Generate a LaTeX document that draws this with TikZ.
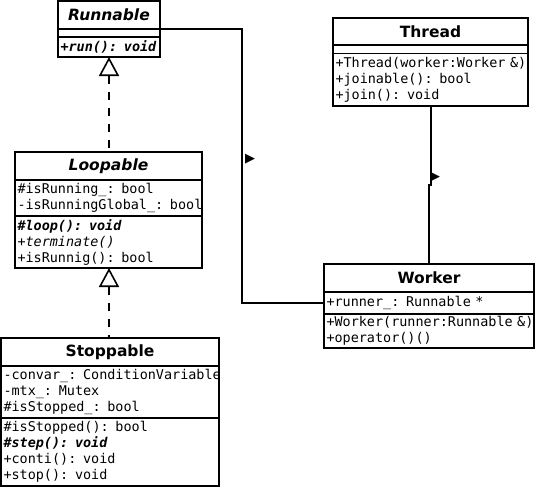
\documentclass[tikz,border=0pt]{standalone}
\usepackage{fontspec}
\setmainfont{DejaVu Sans}
\setsansfont{DejaVu Sans}
\setmonofont{DejaVu Sans Mono}
\usetikzlibrary{arrows.meta,calc}
\newcommand{\umlline}[1]{\mbox{#1}}
\tikzset{
  uml/.style={draw, line width=1.6pt, anchor=north west, inner ysep=0pt, outer sep=0pt},
  ttl/.style={uml, font=\sffamily\bfseries\fontsize{15.5}{18}\selectfont, inner xsep=0pt},
  comp/.style={uml, font=\ttfamily\fontsize{13.45}{16}\selectfont, inner xsep=2.5pt, align=left},
  conn/.style={line width=1.8pt},
  realize/.style={conn, dash pattern=on 8pt off 8pt, {Triangle[open, length=19pt, width=20pt, line width=1.6pt]}-},
  dirmark/.style={font=\fontsize{13}{13}\selectfont, inner sep=0pt},
}
\begin{document}
\begin{tikzpicture}[x=1pt, y=-1pt]
\useasboundingbox (0,0) rectangle (535,487);

% Runnable
\node[ttl, minimum width=102pt, minimum height=28pt] (run-t) at (58,1) {\itshape Runnable};
\node[comp, text width=97pt, minimum height=8pt] (run-a) at (run-t.south west) {};
\node[comp, text width=97pt, minimum height=20pt] (run-m) at (run-a.south west) {\umlline{\bfseries\itshape +run(): void}};

% Thread
\node[ttl, minimum width=195pt, minimum height=27pt] (th-t) at (333,18) {Thread};
\node[comp, text width=190pt, minimum height=8.5pt] (th-a) at (th-t.south west) {};
\node[comp, text width=190pt, minimum height=52.2pt] (th-m) at (th-a.south west)
  {\umlline{+Thread(worker:Worker \&)}\\\umlline{+joinable(): bool}\\\umlline{+join(): void}};

% Loopable
\node[ttl, minimum width=187pt, minimum height=28pt] (loop-t) at (15,152) {\itshape Loopable};
\node[comp, text width=182pt, minimum height=36pt] (loop-a) at (loop-t.south west)
  {\umlline{\#isRunning\_: bool}\\\umlline{-isRunningGlobal\_: bool}};
\node[comp, text width=182pt, minimum height=52pt] (loop-m) at (loop-a.south west)
  {\umlline{\bfseries\itshape \#loop(): void}\\\umlline{\itshape +terminate()}\\\umlline{+isRunnig(): bool}};

% Stoppable
\node[ttl, minimum width=218pt, minimum height=28pt] (stop-t) at (1,338) {Stoppable};
\node[comp, text width=213pt, minimum height=52pt] (stop-a) at (stop-t.south west)
  {\umlline{-convar\_: ConditionVariable}\\\umlline{-mtx\_: Mutex}\\\umlline{\#isStopped\_: bool}};
\node[comp, text width=213pt, minimum height=68pt] (stop-m) at (stop-a.south west)
  {\umlline{\#isStopped(): bool}\\\umlline{\bfseries\itshape \#step(): void}\\\umlline{+conti(): void}\\\umlline{+stop(): void}};

% Worker
\node[ttl, minimum width=210pt, minimum height=28pt] (wk-t) at (324,264) {Worker};
\node[comp, text width=205pt, minimum height=22pt] (wk-a) at (wk-t.south west)
  {\umlline{+runner\_: Runnable *}};
\node[comp, text width=205pt, minimum height=34pt] (wk-m) at (wk-a.south west)
  {\umlline{+Worker(runner:Runnable \&)}\\\umlline{+operator()()}};

% Connectors
\draw[realize] (run-m.south) -- (run-m.south |- loop-t.north);
\draw[realize] ([xshift=0.5pt]loop-m.south) -- ([xshift=0.5pt]loop-m.south |- stop-t.north);
\draw[conn] (run-t.south east) -- ++(82,0) |- (wk-a.west);
\draw[conn] ([xshift=0.5pt]th-m.south) -- ++(0,79.3) -| (wk-t.north);

\node[dirmark] (m1) at (250,159) {▶};
\node[dirmark] (m2) at (435,177) {▶};
\end{tikzpicture}
\end{document}
